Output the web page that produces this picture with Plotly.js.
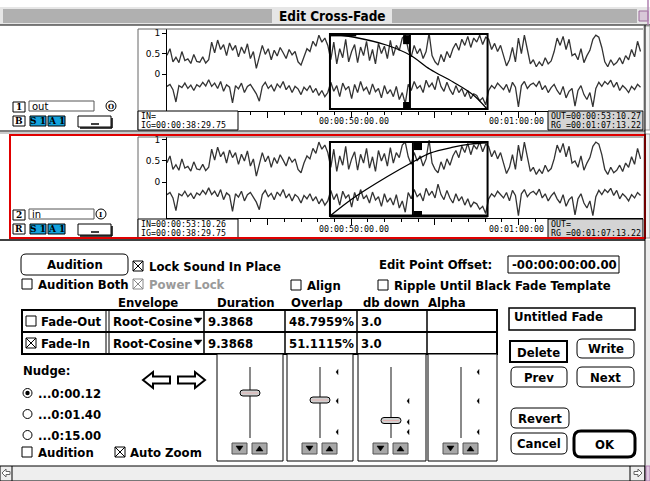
<!DOCTYPE html>
<html><head><meta charset="utf-8">
<script src="https://cdn.plot.ly/plotly-3.0.1.min.js"></script>
<style>html,body{margin:0;padding:0;background:#fff;overflow:hidden}#chart{width:650px;height:481px}</style>
</head><body><div id="chart"></div>
<script>
// ---------------- data ----------------
const sampleStart = 38.99;   // seconds (IG=00:00:38:29.75)
const sampleStep = 0.178;    // seconds between samples
const waveTop = [0.46,0.62,0.30,0.41,0.28,0.55,0.33,0.37,0.26,0.48,0.31,0.29,0.42,0.27,
 0.35,0.78,0.52,0.83,0.60,0.72,0.45,0.76,
 0.58,0.70,0.42,0.66,0.50,0.74,0.38,0.55,0.14,0.40,
 0.70,0.48,0.62,0.35,0.58,0.44,0.65,0.52,0.38,0.60,0.47,0.55,0.30,0.22,
 0.45,0.62,0.55,0.80,0.68,0.95,0.78,0.88,0.70,
 0.35,0.78,0.25,0.62,0.40,0.85,0.30,0.55,0.72,0.28,0.66,0.45,0.80,0.33,0.60,0.25,0.75,0.50,0.68,0.38,0.82,0.45,0.70,0.58,0.88,0.95,
 0.60,0.42,0.70,0.50,0.62,0.38,0.55,1.00,0.45,0.30,
 0.22,0.48,0.30,0.55,0.40,0.62,0.75,0.58,0.85,0.70,0.92,0.65,0.88,0.78,0.95,0.72,0.90,
 0.85,0.60,0.75,0.55,0.70,0.45,0.20,0.35,0.65,0.30,0.88,0.50,0.95,0.60,0.25,
 0.35,0.18,0.30,0.20,0.40,0.25,0.32,0.55,0.88,0.70,0.92,0.60,0.85,0.45,
 0.50,0.35,0.62,0.28,0.45,0.58,0.85,0.95,0.90,0.65,
 0.30,0.18,0.35,0.22,0.28,0.40,0.25,0.45,0.35,0.60,0.42,0.80,0.55];
const waveBottom = [-0.30,-0.25,-0.38,-0.68,-0.28,-0.33,-0.22,-0.35,-0.27,-0.40,-0.26,-0.31,-0.20,-0.29,
 -0.14,-0.30,-0.22,-0.35,-0.18,-0.42,-0.26,-0.32,
 -0.70,-0.28,-0.36,-0.22,-0.45,-0.30,-0.25,-0.38,-0.48,-0.66,
 -0.30,-0.20,-0.35,-0.27,-0.42,-0.24,-0.33,-0.18,-0.38,-0.28,-0.45,-0.30,-0.36,-0.50,
 -0.32,-0.40,-0.28,-0.45,-0.35,-0.52,-0.40,-0.55,-0.45,
 -0.20,-0.42,-0.28,-0.55,-0.22,-0.38,-0.30,-0.60,-0.25,-0.45,-0.18,-0.40,-0.32,-0.50,-0.24,-0.43,-0.35,-0.58,-0.28,-0.48,-0.38,-0.55,-0.30,-0.62,-0.45,-0.72,
 -0.25,-0.40,-0.18,-0.35,-0.28,-0.45,-0.15,-0.32,-0.22,-0.38,
 -0.05,-0.30,-0.42,-0.20,-0.38,-0.50,-0.28,-0.45,-0.35,-0.55,-0.40,-0.60,-0.48,-0.52,-0.65,-0.58,-0.75,
 -0.40,-0.28,-0.35,-0.22,-0.30,-0.38,-0.25,-0.45,-0.20,-0.32,-0.80,-0.28,-0.18,-0.35,-0.26,
 -0.22,-0.30,-0.17,-0.38,-0.28,-0.45,-0.33,-0.25,-0.40,-0.50,-0.30,-0.58,-0.42,-0.35,
 -0.78,-0.40,-0.28,-0.50,-0.62,-0.45,-0.80,-0.35,-0.20,-0.30,
 -0.18,-0.25,-0.15,-0.32,-0.20,-0.40,-0.28,-0.35,-0.45,-0.30,-0.38,-0.25,-0.32];
const fadeOutTime = [48.73,50.11,52.14,53.51,54.71,56.09,57.28,58.12];
const fadeOutGain = [1.00,0.96,0.85,0.72,0.53,0.36,0.19,0.00];
const fadeInTime  = [48.73,50.11,52.14,53.69,54.71,56.09,57.10,58.18];
const fadeInGain  = [0.00,0.24,0.53,0.73,0.85,0.93,0.97,0.99];
const fadeStart = 48.73, fadeEnd = 58.15, editOut = 53.51, editIn = 53.69;
const majorTicks = [40,45,50,55,60,65];
const timeLabels = ['00:00:50:00.00','00:01:00:00'];
const trackNames = ['out','in'];
const tcOut = ['IN=','IG=00:00:38:29.75','OUT=00:00:53:10.27','RG =00:01:07:13.22'];
const tcIn  = ['IN=00:00:53:10.26','IG=00:00:38:29.75','OUT=','RG =00:01:07:13.22'];
const headers = ['Envelope','Duration','Overlap','db down','Alpha'];
const fadeNames = ['Fade-Out','Fade-In'];
const fadeChecked = [false,true];
const envelopes = ['Root-Cosine','Root-Cosine'];
const durations = ['9.3868','9.3868'];
const overlaps = ['48.7959%','51.1115%'];
const dbDown = ['3.0','3.0'];
const nudgeOpts = ['...0:00.12','...0:01.40','...0:15.00'];

// ---------------- helpers ----------------
const W=650,H=481, UI='DejaVu Sans Condensed, DejaVu Sans, sans-serif', REG='DejaVu Sans, sans-serif', MONO='DejaVu Sans Mono, monospace', SER='DejaVu Serif, serif';
const X=p=>p/W, Y=p=>1-p/H;
const shapes=[], ann=[];
function rect(x0,y0,x1,y1,lc,lw,fill){shapes.push({type:'rect',xref:'paper',yref:'paper',x0:X(x0),x1:X(x1),y0:Y(y1),y1:Y(y0),line:{color:lc||'black',width:lw===undefined?1:lw},fillcolor:fill||'rgba(0,0,0,0)'});}
function seg(x0,y0,x1,y1,lc,lw){shapes.push({type:'line',xref:'paper',yref:'paper',x0:X(x0),x1:X(x1),y0:Y(y0),y1:Y(y1),line:{color:lc||'black',width:lw||1}});}
function poly(pts,fill,lc,lw){shapes.push({type:'path',xref:'paper',yref:'paper',path:'M'+pts.map(p=>X(p[0])+','+Y(p[1])).join('L')+'Z',fillcolor:fill||'black',line:{color:lc||'black',width:lw===undefined?0.5:lw}});}
function P(x,y){return X(x)+','+Y(y);}
function rrect(x0,y0,x1,y1,r,lw,fill){const d='M'+P(x0+r,y0)+'L'+P(x1-r,y0)+'Q'+P(x1,y0)+' '+P(x1,y0+r)+'L'+P(x1,y1-r)+'Q'+P(x1,y1)+' '+P(x1-r,y1)+'L'+P(x0+r,y1)+'Q'+P(x0,y1)+' '+P(x0,y1-r)+'L'+P(x0,y0+r)+'Q'+P(x0,y0)+' '+P(x0+r,y0)+'Z';shapes.push({type:'path',xref:'paper',yref:'paper',path:d,fillcolor:fill||'white',line:{color:'black',width:lw||1}});}
function circ(x0,y0,x1,y1,fill,lw){shapes.push({type:'circle',xref:'paper',yref:'paper',x0:X(x0),x1:X(x1),y0:Y(y1),y1:Y(y0),fillcolor:fill||'white',line:{color:'black',width:lw===undefined?1:lw}});}
function txt(s,x,y,o){o=o||{};ann.push({text:s,x:X(x),y:Y(y),xref:'paper',yref:'paper',xanchor:o.a||'left',yanchor:'middle',showarrow:false,borderpad:0,font:{family:o.f||UI,size:o.s||13,color:o.c||'black',weight:o.w||'bold'}});}
function check(x,y,on,c){c=c||'black';rect(x,y,x+10,y+10,c,1,'white');if(on){seg(x,y,x+10,y+10,c,1);seg(x,y+10,x+10,y,c,1);}}
function dshape(o){shapes.push(o);}

// ---------------- window chrome ----------------
rect(0,7,650,25,'black',0,'#e6e6e6');
for(let y=10;y<=22;y+=2){seg(3,y,272,y,'#7a7a7a',1);seg(392,y,637,y,'#7a7a7a',1);}
seg(0,25,650,25,'black',1);
rect(639,11,648,21,'#9a6a9a',1,'#d8c8d8');
txt('Edit Cross-Fade',332,16.5,{a:'center',s:13.5});
seg(648,0,648,25,'#b080b0',1.5);

// ---------------- track panels ----------------
function trackPanel(top,tc,num,name,circled,cx,letter){
  seg(138,top,643,top,'#666',1); seg(138,top,138,top+101,'#666',1);
  rect(138,top+82,238,top+101,'black',1,'white');
  txt(tc[0],140,top+87,{f:MONO,s:8.3,w:'normal'}); txt(tc[1],140,top+96,{f:MONO,s:8.3,w:'normal'});
  rect(548,top+82,643,top+101,'black',1,'#d4d4d4');
  txt(tc[2],550,top+87,{f:MONO,s:8.3,w:'normal'}); txt(tc[3],550,top+96,{f:MONO,s:8.3,w:'normal'});
  txt(timeLabels[0],354,top+92,{a:'center',f:MONO,s:8.3,w:'normal'});
  txt(timeLabels[1],516,top+92,{a:'center',f:MONO,s:8.3,w:'normal'});
  const r1=top+73, r2=top+87;
  rect(13,r1,25,r1+10,'black',1,'white'); txt(num,19,r1+5,{a:'center',s:9,f:SER});
  rect(29,r1-1,94,r1+9,'#555',1,'white'); txt(name,31,r1+4,{s:10,w:'normal',f:REG});
  circ(cx-5,r1-1,cx+5,r1+9,'white',1); txt(circled,cx,r1+4,{a:'center',s:7,f:SER});
  rect(13,r2,25,r2+10,'black',1,'white'); txt(letter,19,r2+5,{a:'center',s:9,f:SER});
  rect(30,r2,46,r2+10,'black',1,'#13a2dc'); txt('S 1',38,r2+5,{a:'center',s:9,f:SER});
  rect(48,r2,65,r2+10,'black',1,'#13a2dc'); txt('A 1',56.5,r2+5,{a:'center',s:9,f:SER});
  rect(78,r2,111,r2+11,'black',1,'white'); seg(112,r2+2,112,r2+12,'black',1.5); seg(80,r2+12,112,r2+12,'black',1.5);
  seg(91,r2+8,99,r2+8,'black',1.5);
  rect(644,top-3,650,top+101,'#999',1,'#f2f2f2');
}
trackPanel(29,tcOut,'1',trackNames[0],'O',111,'B');
seg(0,131,645,131,'black',1); seg(0,133,645,133,'#999',1);
trackPanel(137,tcIn,'2',trackNames[1],'I',101,'R');
rect(10,135,645,238,'#e00000',2);
seg(0,240,645,240,'black',1.5);

function box(xr,yr,t0,t1,yb,yt,edit,mk){
  dshape({type:'rect',xref:xr,yref:yr,x0:t0,x1:t1,y0:yb,y1:yt,line:{color:'black',width:2}});
  dshape({type:'line',xref:xr,yref:yr,x0:edit,x1:edit,y0:yb,y1:yt,line:{color:'black',width:2}});
  dshape({type:'rect',xref:xr,yref:yr,x0:mk[0],x1:mk[1],y0:mk[2],y1:mk[3],fillcolor:'black',line:{width:0}});
  dshape({type:'rect',xref:xr,yref:yr,x0:mk[0],x1:mk[1],y0:mk[4],y1:mk[5],fillcolor:'black',line:{width:0}});
}
box('x','y',fadeStart,fadeEnd,-0.85,0.98,editOut,[53.1,53.51,0.73,0.95,-0.85,-0.68]);
dshape({type:'rect',xref:'x',yref:'y',x0:48.73,x1:50.3,y0:0.92,y1:0.98,fillcolor:'black',line:{width:0}});
box('x2','y2',fadeStart,fadeEnd,-0.81,0.95,editIn,[53.75,54.23,0.76,0.93,-0.81,-0.69]);
dshape({type:'line',xref:'x2',yref:'y2',x0:fadeStart,x1:fadeEnd,y0:-0.81,y1:-0.81,line:{color:'black',width:3}});

// ---------------- controls ----------------
rrect(21,254,128,275,5,1,'white');
txt('Audition',75,264.5,{a:'center'});
check(133,261,true); txt('Lock Sound In Place',148,266);
txt('Edit Point Offset:',493,264,{a:'right'});
rect(508,256,619,273,'black',1,'white'); txt('-00:00:00:00.00',511,264.5);
check(22,279,false); txt('Audition Both',37,284);
check(133,279,true,'#888'); txt('Power Lock',148,284,{c:'#9a9a9a'});
check(291,280,false); txt('Align',306,285);
check(378,280,false); txt('Ripple Until Black',393,285);
txt('Fade Template',514,285);
const hx=[117,216,290,362,427];
headers.forEach((h,i)=>txt(h,hx[i],302));
rect(22,310,497,354,'black',2,'white');
seg(22,332,497,332,'black',2);
[106,109].forEach(x=>seg(x,310,x,354,'black',1));
[204,285,357,427].forEach(x=>seg(x,310,x,354,'black',1.5));
[321,343].forEach((y,i)=>{
  check(26,y-5,fadeChecked[i]); txt(fadeNames[i],40,y);
  txt(envelopes[i],112,y); poly([[194,y-3],[202,y-3],[198,y+2]],'black');
  txt(durations[i],207,y); txt(overlaps[i],288,y); txt(dbDown[i],360,y);
});
rect(509,308,635,330,'black',1.5,'white'); txt('Untitled Fade',513,316);
rect(510,341,567,362,'black',2,'white'); txt('Delete',538.5,352,{a:'center'});
rrect(577,339,634,358,5); txt('Write',605.5,348.5,{a:'center'});
rrect(511,367,567,387,5); txt('Prev',539,377,{a:'center'});
rrect(577,367,634,387,5); txt('Next',605.5,377,{a:'center'});
rrect(511,408,569,428,5); txt('Revert',540,418,{a:'center'});
rrect(511,433,567,454,5); txt('Cancel',539,443.5,{a:'center'});
rrect(574,431,635,457,7,3); txt('OK',604.5,444,{a:'center'});

txt('Nudge:',22,370);
[393,414,435].forEach((y,i)=>{circ(23,y-4.5,32,y+4.5); if(i===0) circ(25.3,y-2.2,29.7,y+2.2,'black',0); txt(nudgeOpts[i],37,y);});
check(22,447,false); txt('Audition',37,452);
check(115,447,true); txt('Auto Zoom',129,452);
poly([[143,380],[153,372],[153,376.5],[170,376.5],[170,383.5],[153,383.5],[153,388]],'white','black',2);
poly([[205,380],[195,372],[195,376.5],[178,376.5],[178,383.5],[195,383.5],[195,388]],'white','black',2);

const panels=[[217,283,250,393,[]],[287,353,320,400,[372,401,432]],[358,426,391,420.5,[401,422,432]],[428,497,461,null,[372,401,432]]];
panels.forEach(p=>{
  const [x0,x1,c,th,tk]=p;
  rect(x0,354,x1,461,'black',1,'white');
  seg(c,367,c,438,'#8a8a8a',2);
  if(th!==null){rrect(c-10,th-3,c+10,th+3,3,1,'#d0d0d0'); seg(c-8,th,c+8,th,'#e0b0b0',1);}
  tk.forEach(y=>poly([[c+16,y],[c+18,y-2.5],[c+18,y+2.5]],'black'));
  rect(c-18,443,c-3,454,'#555',1,'#a8a8a8'); poly([[c-14,446],[c-7,446],[c-10.5,451]],'black');
  rect(c+2,443,c+17,454,'#555',1,'#a8a8a8'); poly([[c+6,451],[c+13,451],[c+9.5,446]],'black');
});

rect(0,466,645,481,'black',1,'#eeeeee');
poly([[2,473],[6,469],[6,471.5],[10,471.5],[10,474.5],[6,474.5],[6,477]],'white','#666',1);
seg(12,466,12,481,'black',1);
poly([[642,473],[638,469],[638,471.5],[634,471.5],[634,474.5],[638,474.5],[638,477]],'white','#666',1);
seg(630,466,630,481,'black',1);
seg(645,25,645,481,'black',1);
rect(646,240,650,466,'#bbb',0,'#ececec');
rect(646,466,650,481,'#b080b0',1,'#e0c8e0');

// ---------------- traces ----------------
const wl={color:'#333333',width:1.3};
const traces=[
 {type:'scatter',mode:'lines',x0:sampleStart,dx:sampleStep,y:waveTop,xaxis:'x',yaxis:'y',line:wl,hoverinfo:'skip'},
 {type:'scatter',mode:'lines',x0:sampleStart,dx:sampleStep,y:waveBottom,xaxis:'x',yaxis:'y',line:wl,hoverinfo:'skip'},
 {type:'scatter',mode:'lines',x0:sampleStart,dx:sampleStep,y:waveTop,xaxis:'x2',yaxis:'y2',line:wl,hoverinfo:'skip'},
 {type:'scatter',mode:'lines',x0:sampleStart,dx:sampleStep,y:waveBottom,xaxis:'x2',yaxis:'y2',line:wl,hoverinfo:'skip'},
 {type:'scatter',mode:'lines',x:fadeOutTime,y:fadeOutGain,xaxis:'x',yaxis:'y3',line:{color:'black',width:1.3,shape:'spline'},hoverinfo:'skip'},
 {type:'scatter',mode:'lines',x:fadeInTime,y:fadeInGain,xaxis:'x2',yaxis:'y4',line:{color:'black',width:1.3,shape:'spline'},hoverinfo:'skip'}
];
const xr=[38.99,67.44];
function xa(anchor){return {domain:[167/W,643/W],range:xr,anchor:anchor,showline:true,linecolor:'black',linewidth:1,ticks:'outside',tickvals:majorTicks,ticklen:6,tickcolor:'black',showticklabels:false,showgrid:false,zeroline:false,minor:{dtick:1,tick0:39,ticks:'outside',ticklen:3,tickcolor:'black'}};}
function ya(anchor,dom,rng){return {domain:dom,range:rng,anchor:anchor,showline:true,linecolor:'black',linewidth:1,ticks:'outside',ticklen:4,tickcolor:'black',tickvals:[0,0.5,1],ticktext:['0','0.5','1'],tickfont:{family:REG,size:9,color:'black'},showgrid:false,zeroline:false};}
const layout={
 width:W,height:H,margin:{l:0,r:0,t:0,b:0},paper_bgcolor:'white',plot_bgcolor:'rgba(0,0,0,0)',showlegend:false,
 xaxis:xa('y'), xaxis2:xa('y2'),
 yaxis:ya('x',[1-111/H,1-29/H],[-0.9,1.1]),
 yaxis2:ya('x2',[1-218/H,1-137/H],[-0.857,1.071]),
 yaxis3:{overlaying:'y',anchor:'x',domain:[1-111/H,1-29/H],range:[-0.0267,1.0667],visible:false},
 yaxis4:{overlaying:'y2',anchor:'x2',domain:[1-218/H,1-137/H],range:[-0.027,1.0676],visible:false},
 shapes:shapes, annotations:ann
};
Plotly.newPlot('chart',traces,layout,{staticPlot:true,displayModeBar:false});
</script></body></html>
